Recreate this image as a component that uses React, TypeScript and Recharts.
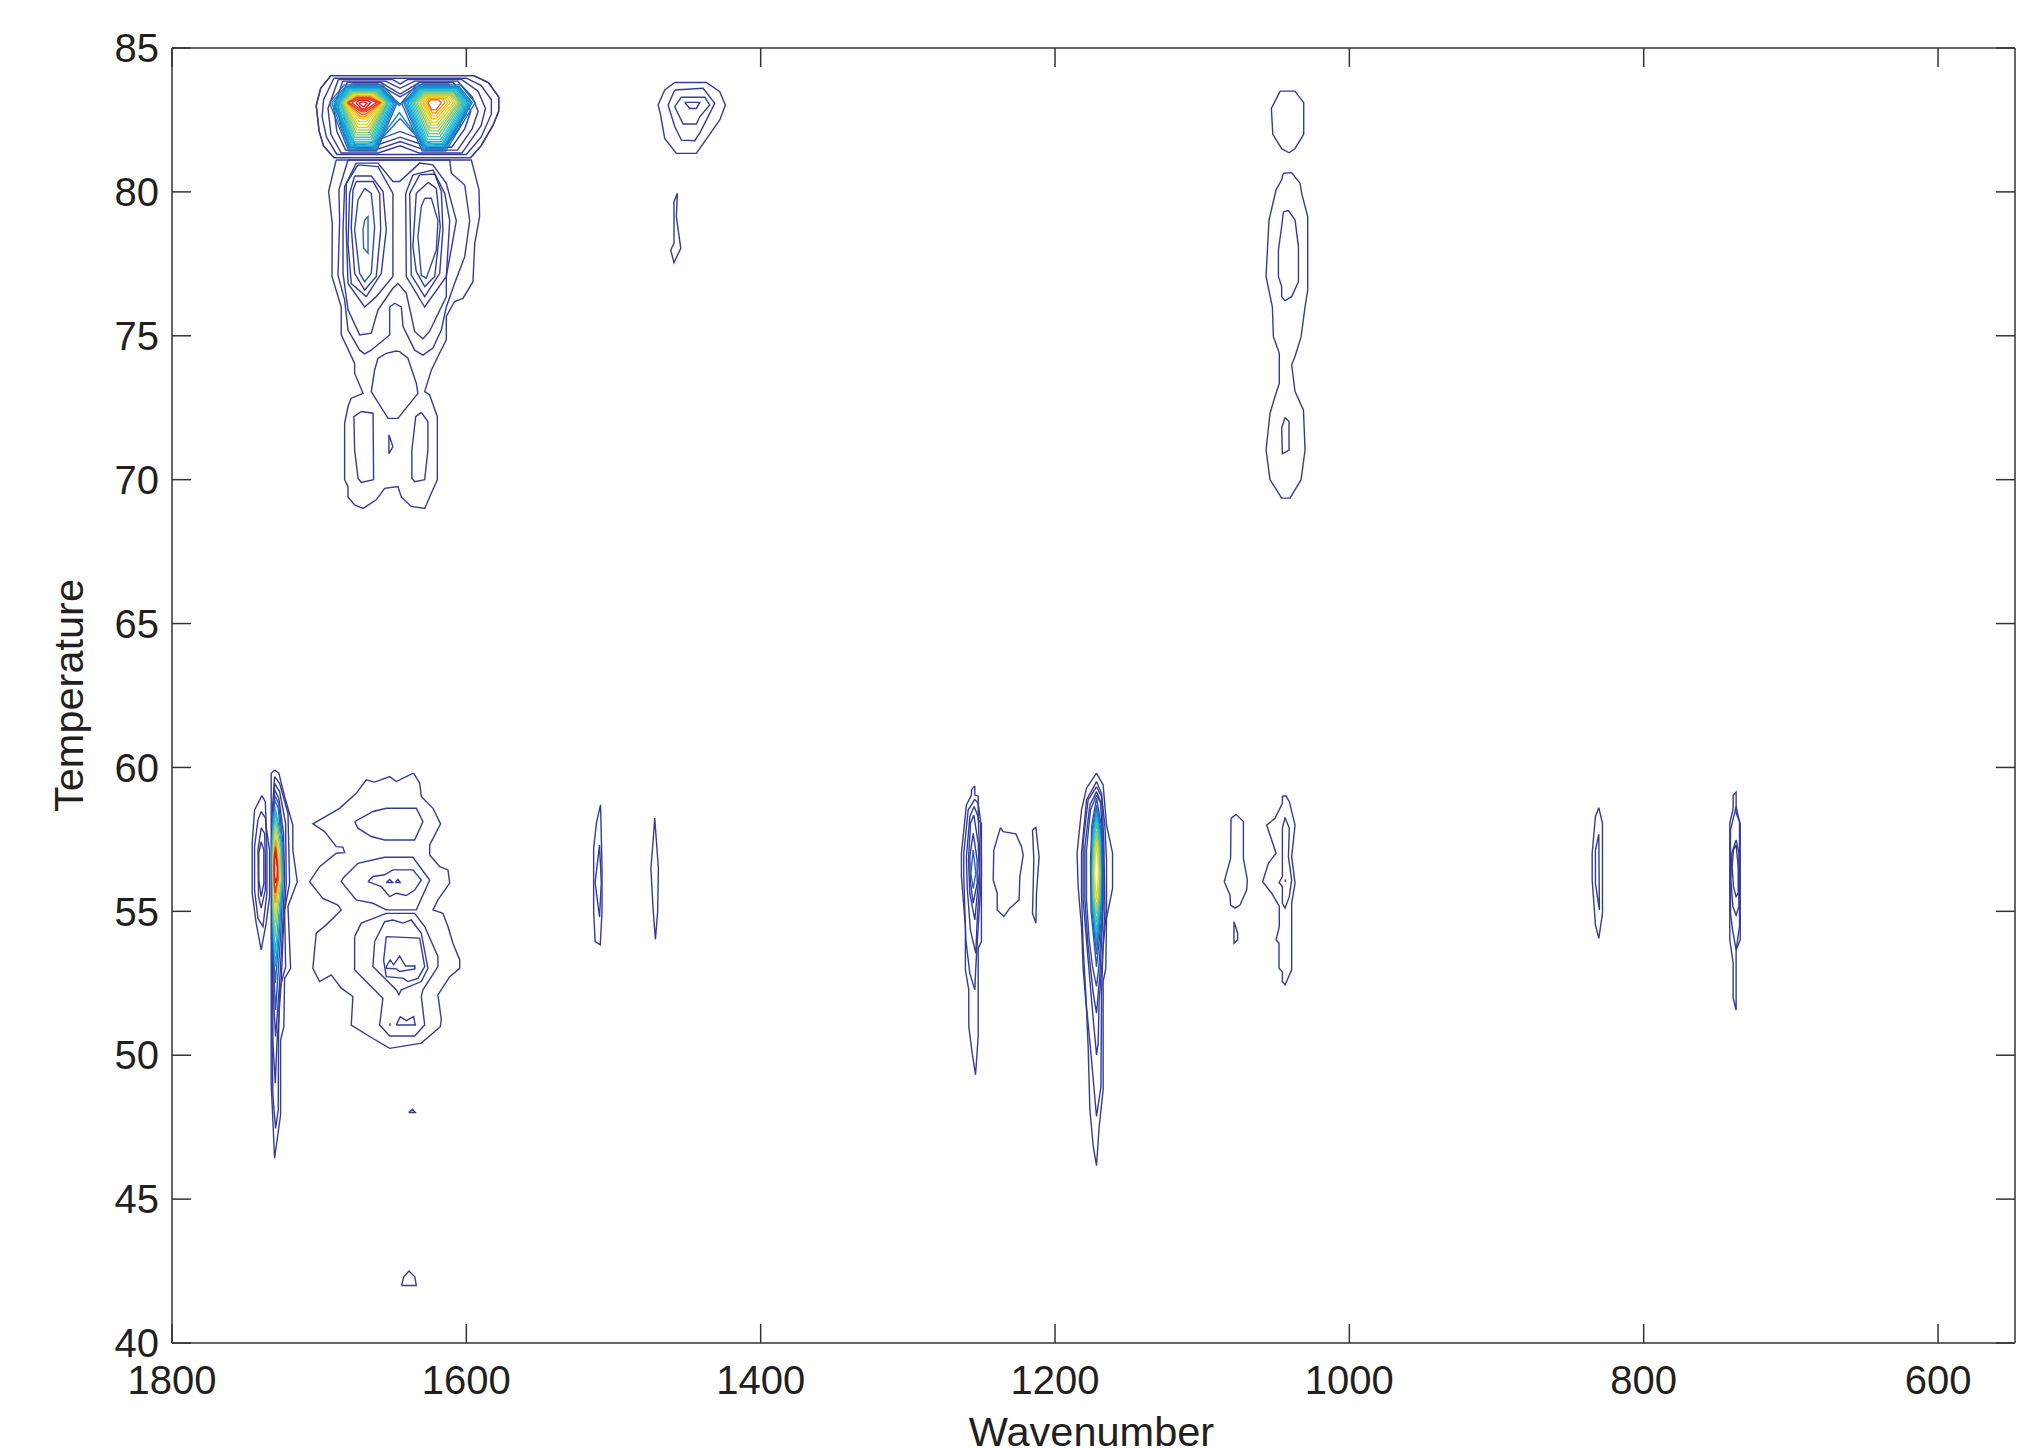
import { ScatterChart, Scatter, XAxis, YAxis } from 'recharts';

const xTicks = [1800, 1600, 1400, 1200, 1000, 800, 600];
const yTicks = [40, 45, 50, 55, 60, 65, 70, 75, 80, 85];

// every contour is a flat list: wavenumber, temperature, wavenumber, temperature ...
// level1 is the lowest contour level (navy), level15 the top one (red)
const level1 = [
  // band at 83 C, both peaks inside one ring
  [1692,84.04, 1595,84.04, 1585,83.8, 1578,83.3, 1578,82.8, 1582,82.3, 1590,81.6, 1597,81.19, 1690,81.19, 1697,81.6, 1700,82.1, 1702,83, 1699,83.6],
  [1690,83.95, 1600,83.95, 1590,83.7, 1583,83.2, 1583,82.7, 1590,81.9, 1600,81.3, 1688,81.3, 1695,81.9, 1698,82.6, 1697,83.2],
  [1687,83.9, 1650,83.9, 1645,83.75, 1640,83.9, 1603,83.9, 1592,83.5, 1587,82.9, 1590,82.3, 1603,81.35, 1632,81.35, 1645,81.6, 1660,81.35, 1685,81.35, 1692,82, 1694,82.9],
  [1684,83.85, 1655,83.85, 1645,83.6, 1635,83.85, 1606,83.85, 1596,83.3, 1592,82.8, 1596,82.2, 1606,81.45, 1628,81.45, 1645,81.75, 1662,81.45, 1682,81.45, 1688,82.1, 1690,82.9],
  [1681,83.8, 1658,83.8, 1645,83.4, 1632,83.8, 1609,83.8, 1600,83.2, 1597,82.8, 1601,82.2, 1610,81.55, 1625,81.55, 1645,81.9, 1665,81.55, 1679,81.55, 1685,82.2, 1687,83],
  // 70-80 C region below it
  [1688.4,81.11, 1693.6,80.01, 1691.1,78.91, 1691.3,77.06, 1685,76, 1685,75.03, 1675.9,74.04, 1675.9,73.7, 1670.2,73, 1678.2,72.83, 1680.4,72.54, 1682.7,71.96, 1682.7,70, 1680.4,69.76, 1680.4,69.4, 1675.9,69.12, 1670.2,69, 1661.2,69.3, 1655.5,69.7, 1646.5,69.76, 1644.2,69.4, 1637.4,69.07, 1628.3,69, 1623.8,69.53, 1619.7,70, 1619.7,72.19, 1625,72.95, 1628.3,73.06, 1623.8,73.8, 1619.3,74.28, 1613.6,74.86, 1613.6,75.67, 1608,76.19, 1602.3,76.3, 1595.5,76.88, 1594.3,78.2, 1591,79.14, 1591.4,80.07, 1596.6,81.11],
  [1680.4,81.11, 1686.6,80.07, 1686.1,79, 1687.2,77.1, 1682.7,76.25, 1680.4,75.2, 1672.5,74.5, 1669.1,74.37, 1664.6,74.5, 1652.1,75.03, 1652.1,76, 1648.7,76.13, 1644.2,76, 1643,75.32, 1635.1,74.5, 1629.5,74.33, 1622.7,74.57, 1617,75.2, 1613.6,76, 1608,76.82, 1601.1,77.75, 1597.7,79, 1601.1,80.24, 1610.2,80.65, 1611.3,81.11],
  [1674.8,81, 1682.7,80.18, 1683.8,78.68, 1683.8,77.17, 1680.4,75.9, 1672.5,75.03, 1664.6,75.09, 1660,75.9, 1649.9,76.65, 1646.5,76.82, 1640.8,76.48, 1635.1,75.15, 1629.5,74.9, 1625,75.15, 1613.6,76.36, 1613.6,77.06, 1606.8,79, 1613.6,80.3, 1622.7,80.94, 1631.7,81, 1645.3,80.36, 1649.9,80.36, 1660,81],
  [1673.6,80.94, 1681.6,80.3, 1681.6,78.68, 1680.4,76.82, 1669.1,76, 1661.2,76.36, 1649.9,77.06, 1649.9,79.95, 1660,80.88],
  [1675.9,80.55, 1664.6,80.55, 1656.6,80.01, 1654.4,78.68, 1657.8,77.17, 1668,76.36, 1678.2,76.82, 1680.4,78.2, 1679.3,79.95],
  [1674.8,80.36, 1663.4,80.36, 1658.9,79.95, 1658.2,78.68, 1661.2,77.06, 1669.1,76.59, 1675.9,77.17, 1678.2,78.79, 1677,80.07],
  [1636.3,80.59, 1622.7,80.76, 1614.7,79.95, 1611.3,79, 1613.6,77.06, 1628.3,76, 1640.8,77.06, 1641.2,79.95],
  [1631.7,80.59, 1621.5,80.62, 1617,80.01, 1615.9,78.68, 1618.1,77.17, 1628.3,76.36, 1637.4,77.11, 1638.5,79.95],
  [1626,80.33, 1620.4,80.12, 1617.7,78.79, 1621.5,77.06, 1628.3,76.71, 1634,77.23, 1636.3,78.1, 1634,79.95],
  [1647.6,74.47, 1654.4,74.39, 1660,74.22, 1662.3,73.81, 1664.6,73.06, 1653.2,72.13, 1646.5,72.13, 1632.9,73, 1634,73.35, 1639.7,74.22, 1645.3,74.45],
  [1671.4,72.37, 1663.4,72.31, 1663,70, 1671.4,69.9, 1673.6,70.05, 1675.9,71.03, 1676.4,72.19],
  [1652.6,71.56, 1649.9,71.15, 1652.6,70.9],
  [1630.6,72.34, 1626.1,72.02, 1626.1,71.03, 1628.3,70, 1635.1,69.93, 1637,70.05, 1637,71.03, 1634.4,72.19],
  // 1450
  [1458.4,83.8, 1436.9,83.8, 1427.8,83.48, 1424,83.02, 1427.8,82.5, 1443.7,81.34, 1457.3,81.34, 1465.2,81.86, 1468.2,82.73, 1469.7,83.02, 1465.2,83.54],
  [1458.4,83.54, 1439.1,83.6, 1431.2,83.08, 1441.4,82.04, 1444.8,81.78, 1453.9,81.8, 1458.4,82.27, 1462.9,83.02],
  [1453.9,83.29, 1438,83.29, 1434.6,83.02, 1441.4,82.61, 1443.7,82.36, 1452.7,82.36, 1458.4,82.96],
  [1451.6,83.11, 1441.4,83.11, 1443.7,82.9, 1448.2,82.9],
  [1456.6,79.95, 1458.9,79.66, 1458.9,78.21, 1461.1,77.98, 1458.9,77.54, 1454.3,78.04, 1457.3,79.14],
  // 1040, high temperature
  [1047,83.5, 1037,83.5, 1031,83.1, 1031,82, 1037,81.5, 1041,81.36, 1046,81.5, 1052,82, 1053,82.9],
  [1044.8,80.65, 1039.2,80.67, 1033.5,80.3, 1032.4,79.95, 1028.3,79.14, 1028.3,76.59, 1030.1,76, 1032.8,74.97, 1036.9,74.28, 1039.2,73.99, 1036.9,73.06, 1031.2,72.42, 1030.1,71.03, 1032.8,70, 1040.3,69.36, 1046,69.36, 1053.9,70, 1056.6,71.03, 1053.9,72.31, 1050.5,72.89, 1047.6,73.35, 1047.6,74.39, 1051.6,74.97, 1052.3,76, 1056.6,77.06, 1054.6,79.02, 1049.8,80.07, 1046,80.42],
  [1044.8,79.31, 1041.4,79.35, 1036.9,79.02, 1034.6,78.1, 1034.6,76.88, 1039.2,76.36, 1043.7,76.22, 1046,76.36, 1046,76.71, 1048.2,77.06, 1048.2,77.98, 1046,78.79],
  [1043.7,72.16, 1041,72.02, 1041,71.03, 1045.5,70.9, 1046,71.79],
  // 1740 shoulder
  [1738.9,59.02, 1736.6,58.81, 1736,57.94, 1733.7,57.13, 1733.7,55.51, 1736,54.59, 1739.4,53.66, 1742.8,54.59, 1745.5,55.63, 1745.5,57.37, 1743.9,58.52],
  [1739.4,58.47, 1736.4,58.23, 1735.5,57.13, 1735.5,55.63, 1738.2,54.47, 1741.6,54.76, 1743.9,55.74, 1743.9,57.25, 1741.6,58.18],
  [1739.4,57.9, 1737.1,57.71, 1736.6,56.9, 1736.6,55.74, 1739.4,55.11, 1741.2,55.51, 1741.6,57.13],
  [1739.4,57.42, 1737.6,57.13, 1737.6,55.98, 1739.4,55.51, 1741,56.09, 1741,57.02],
  // 1730 peak
  [1730.3,59.91, 1727.4,59.8, 1723.5,58.99, 1717.9,58, 1717.9,57.13, 1714.9,56.03, 1721.2,55.17, 1719.4,53.02, 1723.5,52.67, 1724,51, 1726.2,50.53, 1726.2,47.93, 1730.3,46.42, 1732.6,49.03, 1732.6,59.8],
  [1730.3,59.68, 1726.9,59.45, 1721.2,58.41, 1720.6,57.13, 1720.1,55.98, 1723.5,55.05, 1722.8,53.08, 1726.9,52.27, 1727.6,50.65, 1727.8,48.1, 1729.6,47.46, 1731.4,48.56, 1732.1,50.77, 1732.1,58.29],
  [1730.3,59.45, 1726.9,59.16, 1722.8,58.06, 1722.4,55.98, 1724.6,54.12, 1725.8,52.5, 1728.7,50.42, 1729.8,49.03, 1731.4,50.42, 1731.9,57.13],
  [1730.3,59.22, 1727.4,58.93, 1724.2,57.71, 1723.5,56.09, 1725.1,54.12, 1726.9,52.5, 1729.6,50.65, 1731.4,52.27, 1731.9,57.13],
  // blob 1620-1700, 50-60 C
  [1635.8,59.8, 1631.7,59.45, 1630.6,58.99, 1622.7,58.58, 1617.5,58.04, 1624.9,57.31, 1624.9,56.96, 1618.1,56.55, 1612.5,56.44, 1611.3,55.98, 1619.3,55.4, 1622.7,55.05, 1615.9,54.93, 1612.5,54.47, 1609.1,53.89, 1604.5,53.31, 1604.5,53.02, 1611.3,52.73, 1619.3,52.1, 1617,51.23, 1617.7,50.99, 1630.6,50.42, 1652.1,50.24, 1665.7,50.65, 1678.2,51.05, 1677.1,52.04, 1685,52.33, 1691.8,52.79, 1699.7,52.56, 1704.3,53.02, 1702,54.24, 1695.2,54.53, 1685,55.05, 1687.3,55.22, 1697.5,55.45, 1706.5,56.03, 1699.7,56.55, 1688.4,57.02, 1682.7,57.04, 1683.9,57.23, 1688.4,57.25, 1696.3,57.77, 1704.3,58.04, 1686.1,58.58, 1674.8,59.1, 1668,59.57, 1662.3,59.49, 1652.1,59.68, 1647.6,59.51, 1637.4,59.77],
  [1675.9,58.12, 1663.4,58.47, 1654.4,58.58, 1634,58.58, 1629.5,58.12, 1635.1,57.48, 1655.5,57.48, 1664.6,57.6, 1673.7,57.89],
  [1683.9,56.15, 1673.7,56.67, 1655.5,56.88, 1636.3,56.88, 1624.9,56.09, 1634,55.05, 1654.4,55.05, 1663.5,55.28, 1674.8,55.4, 1685,56.03],
  [1666.9,56.03, 1663.5,56.21, 1655.5,56.27, 1649.9,56.44, 1636.3,56.44, 1630.6,56.09, 1635.1,55.74, 1640.8,55.55, 1647.6,55.63, 1652.1,55.51, 1657.8,55.86],
  [1654.4,56, 1652.1,56.11, 1649.9,56],
  [1648.3,56, 1646.5,56.11, 1644.9,56],
  [1675.9,54.12, 1671.4,54.59, 1654.4,54.93, 1635.1,54.93, 1628.3,54.47, 1619.3,53.43, 1619.3,53.08, 1629.5,52.27, 1630.6,52.04, 1628.3,51.05, 1635.1,50.67, 1652.1,50.67, 1658.9,51.05, 1656.7,51.98, 1663.5,52.33, 1675.9,52.97],
  [1662.3,53.95, 1655.5,54.64, 1649.9,54.7, 1643,54.59, 1637.4,54.7, 1630.6,54.24, 1626.1,53.02, 1630.6,52.56, 1644.2,52.27, 1645.8,52.1, 1647.6,52.27, 1663.5,53.08],
  [1654.4,54.12, 1631.7,54.07, 1628.3,53.08, 1632.9,52.67, 1639.7,52.56, 1643,52.68, 1654.4,52.73, 1656.2,53.3],
  [1654.4,53.08, 1651.7,53.31, 1649.4,53.14, 1645.3,53.45, 1641.3,53.1, 1634.9,53.1, 1634.9,53, 1645.3,52.91, 1647.6,53, 1654.4,53.02],
  [1647.6,51.05, 1644.9,51.34, 1640.8,51.2, 1635.8,51.34, 1634.7,51.05],
  [1652.1,51.11, 1651.7,51.02],
  [1639.2,48.01, 1636.7,48.12, 1634.7,48.01],
  [1644,42, 1642.5,42.3, 1639,42.5, 1635,42.3, 1634,42],
  // 1510 and 1470 slivers
  [1508.8,58.7, 1507.8,56.5, 1507.8,55, 1509,53.84, 1512.5,53.95, 1513.5,55, 1513.5,57.2, 1511.5,58.1],
  [1509.5,57.3, 1508.3,56, 1509.5,54.8, 1512.5,56],
  [1472,58.24, 1469.5,56.5, 1470,55, 1471.5,54.02, 1473,55, 1474.6,56.5, 1473,57.5],
  // 1255 and neighbours
  [1254.5,59.36, 1254.5,59.04, 1252.2,59.01, 1252.2,58.18, 1250,58.06, 1250,53.95, 1252.2,53.72, 1252.2,50.65, 1254,49.32, 1256.3,50.07, 1258.6,51, 1258.6,52.27, 1260.9,52.96, 1260.9,54.47, 1263.6,56.21, 1263.6,57.02, 1260.2,58.7, 1256.8,59.04, 1256.8,59.22],
  [1254.5,58.89, 1252.2,58.75, 1250.7,58.18, 1250,56.79, 1250,56.2, 1252.2,54.47, 1253.8,53.08, 1254.5,52.27, 1257.9,52.85, 1260.6,54.01, 1262,56.2, 1262,57.02, 1259,58.52],
  [1255,58.64, 1252.2,58.29, 1251.1,56.9, 1251.1,56.09, 1252.9,54.7, 1253.8,53.54, 1257.5,54.35, 1259.7,55.86, 1260.2,56.9, 1257.9,58.29],
  [1255.2,58.35, 1252.2,57.37, 1251.5,56.32, 1254.5,54.7, 1257.9,55.63, 1258.8,56.79, 1257.4,58.06],
  [1255.6,57.71, 1252.9,56.79, 1252.9,55.98, 1255.6,55.28, 1257.4,55.98, 1257.9,56.9],
  [1237.1,57.91, 1235.2,57.77, 1226.6,57.69, 1222.8,57.25, 1221.6,56.96, 1223.9,56.21, 1224.4,55.4, 1230.7,55.11, 1234.8,54.82, 1239.3,55.05, 1239.3,55.63, 1242,56.09, 1241.6,57.13],
  [1215.3,57.83, 1213,57.91, 1210.8,56.9, 1212.6,55.63, 1213,54.59, 1215.3,54.93, 1214.4,56.79],
  // 1172 peak, outer rings
  [1171.8,59.8, 1167.3,59.39, 1165,58, 1160.9,57.02, 1160.9,55.8, 1165,54.76, 1165.5,53.02, 1167.3,52.56, 1167.3,48.8, 1170,47.52, 1171.8,46.16, 1174,46.83, 1176.3,48.1, 1177.5,50.3, 1178.6,51.57, 1180.9,53.02, 1182,54.47, 1184.3,55.86, 1185,57.02, 1182,58.52, 1178.6,59.28],
  [1171.8,59.51, 1168.4,59.1, 1166.1,57.94, 1165,56.79, 1165,55.05, 1167.3,53.78, 1168.4,52.15, 1168.8,48.91, 1171.8,47.87, 1175.2,49.84, 1178.6,51.69, 1180.9,53.78, 1182,55.63, 1182,57.02, 1178.6,58.87],
  [1171.8,59.33, 1168.4,58.99, 1166.8,57.37, 1166.1,55.05, 1167.9,53.31, 1170,51.92, 1170.7,50.42, 1171.8,50.01, 1174,51.23, 1177.5,53.31, 1180.9,55.4, 1180.9,57.37, 1177.5,58.87],
  [1171.8,59.16, 1169.1,58.81, 1167.3,57.25, 1167.3,55.05, 1169.5,52.85, 1171.8,51.46, 1174,52.15, 1177.5,53.78, 1179.7,55.4, 1179.7,57.25, 1176.3,58.7],
  // 1075 and 1045, low temperature
  [1080.4,58.23, 1077,58.37, 1072,58.12, 1072,56.84, 1069.3,56.09, 1069.8,55.74, 1074.3,55.22, 1077.7,55.11, 1080.7,55.22, 1081.1,55.57, 1085,56.03, 1080.7,56.84],
  [1078.4,54.64, 1075.9,54.24, 1075.9,54.01, 1078.4,53.89],
  [1045.5,59.01, 1043,59.01, 1040.8,58.81, 1036.9,58, 1039.2,56.9, 1036.9,55.98, 1039.2,55.28, 1039.2,52.97, 1043.7,52.44, 1045.5,52.56, 1045.5,52.9, 1047.8,53.02, 1047.8,53.89, 1049.8,54.01, 1047.6,54.47, 1047.6,55.17, 1052.8,55.63, 1058.9,56.03, 1055,56.67, 1049.8,57.02, 1052.8,57.48, 1056.2,58, 1050.5,58.23, 1045.5,58.75],
  [1043.7,58.26, 1040.8,57.89, 1041.4,56.9, 1039.2,56.09, 1040.8,55.51, 1043.7,55.11, 1045.5,55.28, 1045.5,55.86, 1047.8,56, 1045.5,56.21, 1045.5,57.89],
  [1043.7,56.11, 1043.3,56.02],
  // 830 and 740
  [830.5,58.6, 828,58.06, 828,54.93, 830.5,54.06, 832.8,54.53, 835,56.09, 835,57.02, 832.8,58.29],
  [830.5,57.68, 830.1,55.05, 832.8,55.97, 832.8,57.13],
  [739.2,59.04, 737.2,59.14, 737.2,58.41, 734.4,58.06, 734.4,54.01, 737.2,53.66, 737.2,51.57, 739.2,51.98, 739.2,53.2, 741.5,54.01, 741.5,58.06, 739.2,58.58],
  [737.2,58.64, 734.9,58.12, 734.9,54.47, 737.2,53.66, 739.6,54.35, 741,54.93, 741,57.83],
  [737.2,57.48, 735.3,57.02, 735.3,55.17, 737.2,54.87, 739.4,55.17, 740.8,56.09, 740.1,57.02],
  [737.2,57.31, 735.8,56.55, 735.8,55.63, 737.2,55.51, 739,55.86, 739.9,56.55, 739,57.13],
];
const level2 = [
  [1678,83.75, 1660,83.75, 1645,83.3, 1630,83.75, 1612,83.75, 1604,83.1, 1601,82.8, 1605,82.2, 1613,81.65, 1622,81.65, 1645,82.1, 1668,81.65, 1676,81.65, 1682,82.3, 1684,83],
  [1669.1,80.12, 1664.6,79.95, 1662.3,78.79, 1664.6,77.17, 1669.1,76.88, 1672.5,77.17, 1675.9,78.68, 1673.6,79.72],
  [1628.3,79.78, 1623.8,79.78, 1619.3,79, 1620.4,77.98, 1627.2,77, 1630.6,77.1, 1632.9,78.45, 1630.6,79.49],
  [1730.3,59.04, 1727.6,58.76, 1724.6,57.37, 1724.6,56.09, 1726.2,54.12, 1729.6,51.57, 1731.6,53.66, 1731.9,56.9],
  [1171.8,59.04, 1167.7,58.64, 1167.7,57.02, 1167.7,55.05, 1170,53.2, 1171.8,52.39, 1174.5,53.08, 1176.8,54.01, 1178.6,55.4, 1178.6,57.13, 1175.9,58.52],
  [1171.8,58.93, 1168.6,58, 1167.7,56.7, 1167.9,55, 1171.8,53.08, 1175.5,55, 1175.9,56.7, 1175,58],
];
const level3 = [
  [1676,83.72, 1662,83.72, 1645,83.05, 1628,83.72, 1614,83.72, 1604,83.3, 1600,82.7, 1608,82.1, 1616,81.5, 1626,81.5, 1645,82.55, 1664,81.5, 1674,81.5, 1682,82.2, 1689,83],
  [1693,83.1, 1683,83.72, 1657,83.72, 1647,83.1, 1661,81.42, 1680,81.42],
  [1644,83.1, 1634,83.72, 1604,83.72, 1594,83.1, 1614,81.42, 1630,81.42],
  [1669.1,79.02, 1666.8,79.14, 1666.8,77.87, 1669.8,78.04, 1670.2,78.68],
  [1730.3,58.87, 1727.8,58.58, 1725.3,57.13, 1725.3,56.09, 1727.4,54, 1729.8,52.5, 1731.6,54.12, 1731.6,56.9],
  [1255.6,57.13, 1253.8,56.32, 1255.6,55.8, 1257.2,56.32],
  [1171.8,58.7, 1169,57.9, 1168.2,56.6, 1168.5,55.1, 1171.8,53.5, 1175,55.1, 1175.4,56.6, 1174.6,57.9],
];
const level4 = [
  [1677,83.68, 1661,83.68, 1645.5,83, 1629,83.68, 1613,83.68, 1602,83.2, 1599,82.9, 1608,82.2, 1616,81.48, 1627,81.48, 1645.5,82.75, 1664,81.48, 1675,81.48, 1683,82.2, 1690,83],
  [1691.5,83.1, 1682,83.67, 1658,83.67, 1648,83.1, 1661.5,81.48, 1679.5,81.48],
  [1642.5,83.1, 1633,83.67, 1605,83.67, 1596,83.1, 1614.5,81.48, 1629.5,81.48],
  [1690,83.1, 1681.5,83.63, 1658.5,83.63, 1649,83.1, 1662,81.53, 1679,81.53],
  [1641.5,83.1, 1632.5,83.63, 1605.5,83.63, 1597,83.1, 1615,81.53, 1629,81.53],
  [1171.8,58.55, 1169.3,57.8, 1168.6,56.5, 1168.9,55.2, 1171.8,53.8, 1174.6,55.2, 1175,56.5, 1174.3,57.8],
];
const level5 = [
  [1689,83.1, 1681,83.6, 1659,83.6, 1650,83.1, 1662.5,81.58, 1678.5,81.58],
  [1640.5,83.1, 1632,83.6, 1606,83.6, 1598,83.1, 1615.5,81.58, 1628.5,81.58],
  [1688,83.1, 1680.5,83.58, 1659.5,83.58, 1651,83.1, 1663,81.63, 1678,81.63],
  [1639.5,83.1, 1631.5,83.58, 1606.5,83.58, 1599,83.1, 1616,81.63, 1628,81.63],
  [1730.1,58.64, 1726,57.6, 1724.8,56.09, 1727.5,54.35, 1729.8,53.08, 1731.6,54.59, 1732.1,57.13, 1731.4,58.06],
  [1171.8,58.4, 1169.5,57.6, 1168.9,56.4, 1169.2,55.3, 1171.8,54.05, 1174.4,55.3, 1174.7,56.4, 1174.1,57.6],
];
const level6 = [
  [1687,83.1, 1680,83.56, 1660,83.56, 1652,83.1, 1663.5,81.68, 1677.5,81.68],
  [1638.5,83.1, 1631,83.56, 1607,83.56, 1600,83.1, 1616.5,81.68, 1627.5,81.68],
  [1686,83.1, 1679.5,83.53, 1660.5,83.53, 1653,83.1, 1664,81.74, 1677,81.74],
  [1637.5,83.1, 1630.5,83.53, 1607.5,83.53, 1601,83.1, 1617,81.74, 1627,81.74],
  [1729.8,58.41, 1726.2,57.37, 1725.2,56.09, 1727.8,54.7, 1729.8,53.54, 1731.4,54.82, 1731.9,56.9, 1731.2,57.83],
  [1171.8,58.25, 1169.7,57.5, 1169.1,56.4, 1169.5,55.4, 1171.8,54.3, 1174.1,55.4, 1174.5,56.4, 1173.9,57.5],
];
const level7 = [
  [1685.5,83.1, 1679,83.5, 1661,83.5, 1653.5,83.1, 1664.5,81.82, 1676.5,81.82],
  [1636.5,83.1, 1630,83.5, 1608,83.5, 1602,83.1, 1617.5,81.82, 1626.5,81.82],
  [1685,83.1, 1678.5,83.48, 1661.5,83.48, 1654,83.1, 1665,81.9, 1676,81.9],
  [1635.5,83.1, 1629.5,83.47, 1608.5,83.47, 1603,83.1, 1618,81.92, 1626,81.92],
  [1171.8,58.05, 1170,57.4, 1169.3,56.3, 1169.7,55.5, 1171.8,54.6, 1173.9,55.5, 1174.3,56.3, 1173.6,57.4],
];
const level8 = [
  [1684.5,83.1, 1678,83.46, 1662,83.46, 1654.5,83.1, 1665.5,81.98, 1675.5,81.98],
  [1634.5,83.1, 1629,83.44, 1609,83.44, 1604,83.1, 1618.5,82.02, 1625.5,82.02],
  [1684,83.1, 1677.5,83.44, 1662.5,83.44, 1655,83.1, 1666,82.06, 1675,82.06],
  [1633.5,83.1, 1628.5,83.41, 1610,83.41, 1605,83.1, 1619,82.12, 1625,82.12],
  [1729.6,58.17, 1726.5,57.13, 1725.8,56.09, 1728.2,55.05, 1729.8,54.12, 1731.2,55.17, 1731.6,56.79, 1730.9,57.6],
  [1171.8,57.8, 1170.2,57.2, 1169.5,56.3, 1170,55.5, 1171.8,54.9, 1173.6,55.5, 1174.1,56.3, 1173.4,57.2],
];
const level9 = [
  [1683.5,83.1, 1677,83.42, 1663,83.42, 1655.5,83.1, 1666.5,82.15, 1674.5,82.15],
  [1632.5,83.1, 1628,83.38, 1610.5,83.38, 1606,83.1, 1619.5,82.22, 1624.5,82.22],
  [1683,83.1, 1676.5,83.4, 1663.5,83.4, 1656,83.1, 1667,82.24, 1674,82.24],
  [1631.5,83.1, 1627.5,83.35, 1611,83.35, 1607.5,83.1, 1620,82.32, 1624,82.32],
  [1729.6,57.94, 1727.2,56.9, 1726.6,56.09, 1728.6,55.28, 1729.8,54.59, 1730.8,55.4, 1731.4,56.67, 1730.7,57.37],
  [1171.8,57.6, 1170.6,57.1, 1170,56.3, 1170.5,55.6, 1171.8,55.1, 1173.1,55.6, 1173.6,56.3, 1173,57.1],
];
const level10 = [
  [1682.5,83.1, 1676,83.38, 1664,83.38, 1656.5,83.1, 1667.5,82.34, 1673.5,82.34],
  [1630.5,83.1, 1627,83.32, 1612,83.32, 1609,83.1, 1620.5,82.42, 1623.5,82.42],
  [1682,83.1, 1675.5,83.36, 1664.5,83.36, 1657,83.1, 1668,82.44, 1673,82.44],
  [1729.6,57.71, 1727.8,56.79, 1727.4,56.09, 1728.9,55.45, 1729.8,54.93, 1730.8,55.63, 1731.2,56.67, 1730.5,57.25],
  [1171.8,57.35, 1170.9,56.9, 1170.5,56.3, 1171,55.8, 1171.8,55.4, 1172.6,55.8, 1173.1,56.3, 1172.7,56.9],
];
const level11 = [
  [1681.5,83.1, 1675,83.34, 1665,83.34, 1657.5,83.1, 1668,82.54, 1672.5,82.54],
  [1629.5,83.1, 1626.5,83.29, 1613,83.29, 1611,83.1, 1620.5,82.54, 1623.5,82.54],
  [1628.5,83.1, 1626,83.26, 1614.5,83.26, 1612.5,83.1, 1620.5,82.64, 1623.5,82.64],
];
const level12 = [
  [1681,83.1, 1674.5,83.32, 1665.5,83.32, 1658,83.1, 1668.5,82.62, 1672,82.62],
  [1627,83.1, 1625,83.24, 1616,83.24, 1614.5,83.1, 1621,82.74, 1623,82.74],
  [1729.6,57.48, 1728,56.67, 1727.8,56.09, 1729.2,55.63, 1729.8,55.28, 1730.5,55.75, 1730.9,56.55, 1730.3,57.13],
];
const level13 = [
  [1681,83.1, 1674.5,83.29, 1665.5,83.29, 1658.5,83.1, 1668.5,82.7, 1671.5,82.7],
  [1626,83.1, 1624,83.2, 1619,83.2, 1617,83.1, 1620.5,82.85, 1623.5,82.85],
];
const level14 = [
  [1680,83.1, 1674,83.26, 1666,83.26, 1659,83.1, 1668.5,82.78, 1671.5,82.78],
  [1678,83.1, 1673,83.23, 1667,83.23, 1661,83.1, 1669,82.83, 1671,82.83],
  [1729.6,57.25, 1728.3,56.61, 1728,56.15, 1729.4,55.8, 1729.8,55.63, 1730.5,55.98, 1730.8,56.55, 1730.3,57.02],
];
const level15 = [
  [1675,83.1, 1673,83.18, 1667,83.18, 1665,83.1, 1669,82.88, 1671,82.88],
  [1673,83.08, 1671,83.12, 1669,83.12, 1667.5,83.08, 1669.5,82.97, 1670.5,82.97],
  [1729.6,57.08, 1728.5,56.55, 1728.5,56.21, 1729.6,55.98, 1730.3,56.27, 1730.3,56.79],
];

const levels = [level1, level2, level3, level4, level5, level6, level7, level8, level9, level10, level11, level12, level13, level14, level15];
const levelColors = [
  '#353b99', '#2f4da8', '#2566b8', '#1c84c8', '#17a5d8', '#1fbfd8', '#4bc4b0', '#86c97a',
  '#bcd24e', '#e6d92b', '#f8c31e', '#f59a1f', '#ee6a22', '#e53525', '#d7191f',
];

// flat list -> closed ring of points
function toRing(flat: number[]) {
  const pts: { x: number; y: number }[] = [];
  for (let i = 0; i < flat.length; i += 2) pts.push({ x: flat[i], y: flat[i + 1] });
  pts.push(pts[0]);
  return pts;
}

const noDot = () => <g />;
const font = { fontFamily: 'Liberation Sans, Arial, sans-serif', fontSize: 40, fill: '#231f20' };
const labelFont = { ...font, fontSize: 41.5 };
const frame = { stroke: '#333', strokeWidth: 1.5 };
const xDomain = [547.7, 1800];
const yDomain = [40, 85];

export default function App() {
  return (
    <div style={{ position: 'absolute', left: 0, top: 0, width: 2023, height: 1448, background: '#fff' }}>
      <ScatterChart width={2023} height={1448} margin={{ top: 48, right: 8, bottom: 0, left: 0 }}>
        <XAxis
          type="number" dataKey="x" domain={xDomain} reversed ticks={xTicks} interval={0} height={105}
          allowDataOverflow tickSize={-19} tickMargin={42} tick={font} axisLine={frame} tickLine={frame}
          label={{ value: 'Wavenumber', position: 'insideBottom', offset: 2, dx: -2, ...labelFont }}
        />
        <YAxis
          type="number" dataKey="y" domain={yDomain} ticks={yTicks} interval={0} width={172}
          allowDataOverflow tickSize={-19} tickMargin={32} tick={font} axisLine={frame} tickLine={frame}
          label={{ value: 'Temperature', angle: -90, position: 'insideLeft', offset: 68, ...labelFont, textAnchor: 'middle' }}
        />
        <XAxis
          xAxisId="top" orientation="top" mirror type="number" dataKey="x" domain={xDomain} reversed ticks={xTicks} interval={0}
          allowDataOverflow tickSize={19} tick={noDot} axisLine={frame} tickLine={frame}
        />
        <YAxis
          yAxisId="right" orientation="right" mirror type="number" dataKey="y" domain={yDomain} ticks={yTicks} interval={0}
          allowDataOverflow tickSize={19} tick={noDot} axisLine={frame} tickLine={frame}
        />
        {levels.map((rings, l) =>
          rings.map((ring, i) => (
            <Scatter
              key={`${l}-${i}`}
              data={toRing(ring)}
              line={{ stroke: levelColors[l], strokeWidth: 1.4 }}
              lineType="joint"
              shape={noDot}
              isAnimationActive={false}
            />
          ))
        )}
        {/* same contour again on the top/right axes, they only draw ticks when a series uses them */}
        <Scatter
          xAxisId="top"
          yAxisId="right"
          data={toRing(level1[0])}
          line={{ stroke: levelColors[0], strokeWidth: 1.4 }}
          lineType="joint"
          shape={noDot}
          isAnimationActive={false}
        />
      </ScatterChart>
    </div>
  );
}
